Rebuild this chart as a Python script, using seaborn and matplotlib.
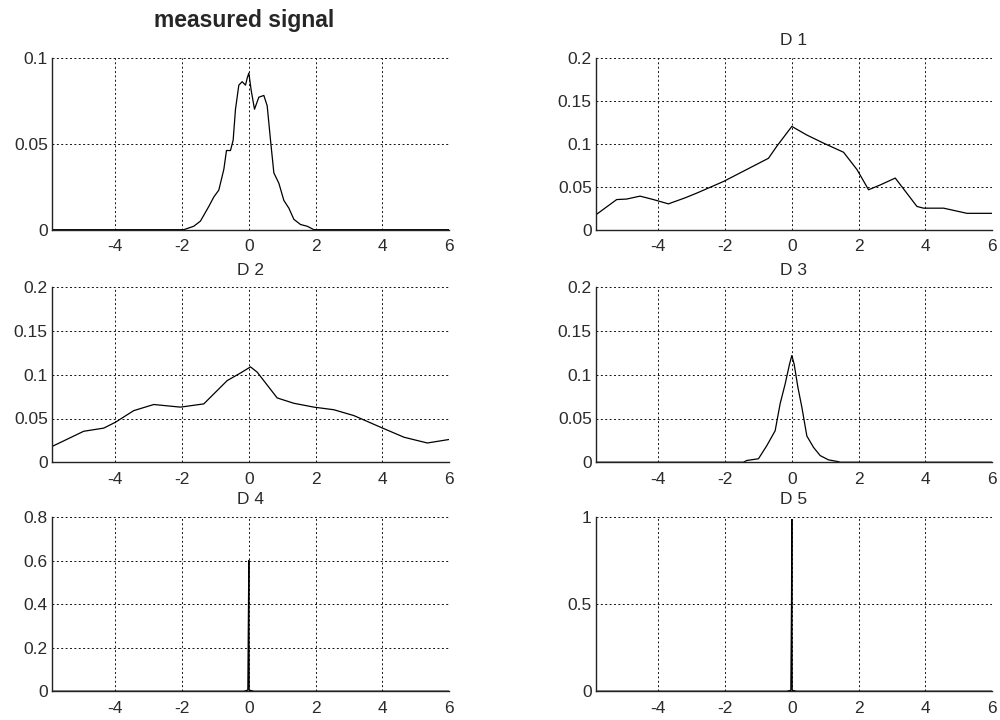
import numpy as np
import pandas as pd
import seaborn as sns
import matplotlib
matplotlib.use("Agg")
import matplotlib.pyplot as plt

# ---------------- data ----------------
measured_x = [-5.9, -1.95, -1.65, -1.45, -1.2, -1.05, -0.9, -0.75, -0.67, -0.55, -0.47, -0.4,
              -0.3, -0.2, -0.1, -0.05, 0.0, 0.07, 0.17, 0.3, 0.45, 0.55, 0.65, 0.75, 0.9,
              1.05, 1.2, 1.35, 1.55, 1.75, 1.95, 6.0]
measured_y = [0.0, 0.0, 0.002, 0.005, 0.0135, 0.019, 0.023, 0.035, 0.046, 0.046, 0.052, 0.070,
              0.084, 0.086, 0.084, 0.088, 0.091, 0.081, 0.070, 0.077, 0.078, 0.072, 0.052, 0.033,
              0.027, 0.017, 0.0125, 0.006, 0.003, 0.002, 0.0, 0.0]

d1_x = [-5.87, -5.25, -4.95, -4.55, -4.15, -3.7, -3.2, -2.85, -2.05, -1.35, -0.7, -0.45, 0.0,
        0.45, 0.95, 1.55, 1.95, 2.3, 2.65, 3.1, 3.75, 3.95, 4.55, 5.25, 6.0]
d1_y = [0.0174, 0.035, 0.0356, 0.039, 0.035, 0.030, 0.037, 0.0425, 0.056, 0.070, 0.083, 0.097,
        0.120, 0.110, 0.1006, 0.090, 0.070, 0.0464, 0.052, 0.060, 0.027, 0.025, 0.025, 0.019, 0.019]

d2_x = [-5.9, -4.95, -4.35, -4.0, -3.45, -2.85, -2.05, -1.35, -0.65, -0.25, 0.05, 0.25, 0.85,
        1.35, 1.95, 2.55, 3.15, 3.95, 4.65, 5.35, 6.0]
d2_y = [0.018, 0.0354, 0.039, 0.0457, 0.059, 0.066, 0.063, 0.0667, 0.0933, 0.102, 0.109, 0.103,
        0.0735, 0.0674, 0.063, 0.060, 0.0533, 0.040, 0.0286, 0.022, 0.026]

d3_x = [-5.87, -1.45, -1.35, -1.0, -0.75, -0.5, -0.35, -0.2, -0.07, 0.0, 0.07, 0.18, 0.3, 0.45,
        0.65, 0.85, 1.1, 1.35, 1.45, 6.0]
d3_y = [0.0, 0.0, 0.002, 0.004, 0.019, 0.036, 0.067, 0.0895, 0.112, 0.122, 0.112, 0.086, 0.063,
        0.030, 0.017, 0.0076, 0.0027, 0.001, 0.0, 0.0]

d4_x = [-5.9, -0.15, -0.03, -0.01, 0.0, 0.01, 0.15, 6.0]
d4_y = [0.0, 0.0, 0.005, 0.4, 0.6, 0.005, 0.0, 0.0]

d5_x = [-5.87, -0.15, -0.03, -0.01, 0.0, 0.01, 0.15, 6.0]
d5_y = [0.0, 0.0, 0.005, 0.5, 0.985, 0.005, 0.0, 0.0]

titles = ["measured signal", "D 1", "D 2", "D 3", "D 4", "D 5"]
x_ticks = [-4, -2, 0, 2, 4, 6]
x_ticklabels = ["-4", "-2", "0", "2", "4", "6"]
y_ticks_small = [0, 0.05, 0.1]
y_ticklabels_small = ["0", "0.05", "0.1"]
y_ticks_mid = [0, 0.05, 0.1, 0.15, 0.2]
y_ticklabels_mid = ["0", "0.05", "0.1", "0.15", "0.2"]
y_ticks_d4 = [0, 0.2, 0.4, 0.6, 0.8]
y_ticklabels_d4 = ["0", "0.2", "0.4", "0.6", "0.8"]
y_ticks_d5 = [0, 0.5, 1]
y_ticklabels_d5 = ["0", "0.5", "1"]

# ---------------- figure ----------------
sns.set_style("white")
plt.rcParams['font.family'] = ['Liberation Sans', 'DejaVu Sans']

fig = plt.figure(figsize=(10, 7.2), dpi=100)

positions = [
    (0.052, 0.681, 0.397, 0.239),
    (0.596, 0.681, 0.396, 0.239),
    (0.052, 0.358, 0.397, 0.243),
    (0.596, 0.358, 0.396, 0.243),
    (0.052, 0.040, 0.397, 0.242),
    (0.596, 0.040, 0.396, 0.242),
]

series = [(measured_x, measured_y), (d1_x, d1_y), (d2_x, d2_y),
          (d3_x, d3_y), (d4_x, d4_y), (d5_x, d5_y)]
yinfo = [(y_ticks_small, y_ticklabels_small), (y_ticks_mid, y_ticklabels_mid),
         (y_ticks_mid, y_ticklabels_mid), (y_ticks_mid, y_ticklabels_mid),
         (y_ticks_d4, y_ticklabels_d4), (y_ticks_d5, y_ticklabels_d5)]
xmins = [-5.9, -5.87, -5.9, -5.87, -5.9, -5.87]

for i, pos in enumerate(positions):
    ax = fig.add_axes(pos)
    xs, ys = series[i]
    df = pd.DataFrame({"x": xs, "y": ys})
    sns.lineplot(data=df, x="x", y="y", ax=ax, color="black", linewidth=0.9,
                 estimator=None, sort=False)
    yt, ytl = yinfo[i]
    ax.set_xlim(xmins[i], 6)
    ax.set_ylim(yt[0], yt[-1])
    ax.set_xticks(x_ticks)
    ax.set_xticklabels(x_ticklabels)
    ax.set_yticks(yt)
    ax.set_yticklabels(ytl)
    ax.set_xlabel("")
    ax.set_ylabel("")
    ax.grid(True, color="#111111", linestyle=(0, (2, 2.5)), linewidth=0.7)
    ax.set_axisbelow(True)
    for s in ["top", "right"]:
        ax.spines[s].set_visible(False)
    for s in ["left", "bottom"]:
        ax.spines[s].set_color("#222222")
        ax.spines[s].set_linewidth(1.0)
    ax.tick_params(axis="both", direction="in", length=3, labelsize=12.5,
                   colors="black", labelcolor="#2a2a2a")
    ax.tick_params(axis="x", pad=7)
    ax.tick_params(axis="y", pad=3)
    if i == 0:
        ax.set_title(titles[i], fontsize=16.5, fontweight="bold", pad=22, x=0.485)
    else:
        ax.set_title(titles[i], fontsize=12.5, pad=9, color="#2a2a2a")

fig.savefig("out.png", dpi=100)
